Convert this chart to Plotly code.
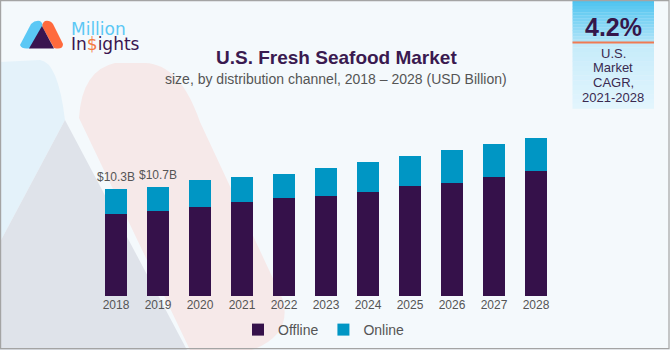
import plotly.graph_objects as go

# ---------------- data ----------------
years = ["2018", "2019", "2020", "2021", "2022", "2023", "2024", "2025", "2026", "2027", "2028"]
offline = [7.94, 8.18, 8.62, 9.04, 9.46, 9.68, 10.04, 10.62, 10.88, 11.46, 12.07]
online = [2.36, 2.37, 2.58, 2.42, 2.32, 2.65, 2.89, 2.86, 3.21, 3.21, 3.21]
bar_labels = ["$10.3B", "$10.7B"]
cagr_value = "4.2%"
cagr_lines = ["U.S.", "Market", "CAGR,", "2021-2028"]

# ---------------- geometry helpers (pixels -> paper) ----------------
W, H = 670, 350
ML, MR, MT, MB = 95, 113, 126, 54
PW, PH = W - ML - MR, H - MT - MB


def px(x):
    return (x - ML) / PW


def py(y):
    return 1 - (y - MT) / PH


def path(pts_cmds):
    out = []
    for c in pts_cmds:
        if isinstance(c, str):
            out.append(c)
        else:
            out.append(f"{px(c[0]):.5f},{py(c[1]):.5f}")
    return " ".join(out)


DARK = "#35114a"
BLUE = "#0096c4"
GRAY_TXT = "#555555"

fig = go.Figure()
fig.add_trace(go.Bar(x=years, y=offline, name="Offline", marker=dict(color=DARK, line=dict(width=0))))
fig.add_trace(go.Bar(x=years, y=online, name="Online", marker=dict(color=BLUE, line=dict(width=0))))

shapes = []
# background decorative shapes
shapes.append(dict(type="path", xref="paper", yref="paper", layer="below", line=dict(width=0),
                   fillcolor="#e4f2fa",
                   path=path(["M", (0, 62), "L", (40, 60), "Q", (58, 62), (65, 120), "L", (0, 242), "Z"])))
shapes.append(dict(type="path", xref="paper", yref="paper", layer="below", line=dict(width=0),
                   fillcolor="#dfe3ea",
                   path=path(["M", (65, 120), "L", (187, 350), "L", (0, 350), "L", (0, 242), "Z"])))
shapes.append(dict(type="path", xref="paper", yref="paper", layer="below", line=dict(width=0),
                   fillcolor="#f6e9e9",
                   path=path(["M", (79, 118), "L", (190, 350), "L", (252, 350),
                              "Q", (292, 335), (283, 300), "L", (200, 122),
                              "Q", (180, 64), (145, 63), "L", (115, 63),
                              "Q", (82, 70), (79, 118), "Z"])))


def lerp_col(c1, c2, t):
    a = [int(c1[i:i + 2], 16) for i in (1, 3, 5)]
    b = [int(c2[i:i + 2], 16) for i in (1, 3, 5)]
    return "#" + "".join(f"{round(a[k] + (b[k] - a[k]) * t):02x}" for k in range(3))


# CAGR box
BX0, BX1 = 572.5, 654
n = 14
for i in range(n):
    y0 = 0 + 42.5 * i / n
    y1 = 0 + 42.5 * (i + 1) / n + 0.3
    shapes.append(dict(type="rect", xref="paper", yref="paper", layer="below", line=dict(width=0),
                       fillcolor=lerp_col("#4fc4f0", "#aee3f8", i / (n - 1)),
                       x0=px(BX0), x1=px(BX1), y0=py(y0), y1=py(y1)))
for i in range(n):
    y0 = 42.5 + 66 * i / n
    y1 = 42.5 + 66 * (i + 1) / n + 0.3
    shapes.append(dict(type="rect", xref="paper", yref="paper", layer="below", line=dict(width=0),
                       fillcolor=lerp_col("#c6ebfa", "#e2f5fd", i / (n - 1)),
                       x0=px(BX0), x1=px(BX1), y0=py(y0), y1=py(y1)))
shapes.append(dict(type="line", xref="paper", yref="paper", layer="below",
                   line=dict(color="#f07a52", width=2),
                   x0=px(BX0), x1=px(BX1), y0=py(42.5), y1=py(42.5)))

# logo icon
shapes.append(dict(type="path", xref="paper", yref="paper", layer="below", line=dict(width=0),
                   fillcolor="#5bc8f5",
                   path=path(["M", (20, 45), "L", (31, 24), "Q", (35, 20), (40, 21),
                              "Q", (44, 24), (42, 28), "L", (31, 48), "Q", (22, 50), (20, 45), "Z"])))
shapes.append(dict(type="path", xref="paper", yref="paper", layer="below", line=dict(width=0),
                   fillcolor="#ff6a3d",
                   path=path(["M", (43, 28), "Q", (41, 24), (45, 21), "Q", (50, 20), (53, 24),
                              "L", (63, 44), "Q", (63, 50), (54, 48), "Z"])))
shapes.append(dict(type="path", xref="paper", yref="paper", layer="below", line=dict(width=0),
                   fillcolor="#3a1550",
                   path=path(["M", (29, 48.5), "L", (42, 26), "L", (54, 48.5), "Z"])))

# frame
shapes.append(dict(type="rect", xref="paper", yref="paper", layer="above",
                   line=dict(color="#a4a4a4", width=1.2), fillcolor="rgba(0,0,0,0)",
                   x0=px(0.6), x1=px(669), y0=py(0.6), y1=py(348.7)))

annotations = []


def ann(text, x, y, size, color, bold=False, family="Liberation Sans, Arial, sans-serif", xanchor="center"):
    annotations.append(dict(text=f"<b>{text}</b>" if bold else text, x=px(x), y=py(y),
                            xref="paper", yref="paper", xanchor=xanchor, yanchor="middle",
                            showarrow=False, font=dict(size=size, color=color, family=family)))


ann("U.S. Fresh Seafood Market", 336.5, 57, 19, "#3a1a50", bold=True)
ann("size, by distribution channel, 2018 – 2028 (USD Billion)", 336, 78.5, 14, GRAY_TXT)

ann("Million", 69, 28.5, 17, "#5bc8f5", family="DejaVu Sans, sans-serif", xanchor="left")
ann("In<span style='color:#f47a40'>$</span>ights", 69, 44.5, 17, "#3a1550",
    family="DejaVu Sans, sans-serif", xanchor="left")

ann(cagr_value, 613.3, 27.5, 25, "#35164a", bold=True)
for txt, yy in zip(cagr_lines, [53.5, 68, 82.5, 97.5]):
    ann(txt, 613.3, yy, 13, "#3a2a50")

# value labels above first bars
for i, lab in enumerate(bar_labels):
    annotations.append(dict(text=lab, x=i, y=offline[i] + online[i], xref="x", yref="y",
                            xanchor="center", yanchor="middle", yshift=12, showarrow=False,
                            font=dict(size=12, color=GRAY_TXT, family="Liberation Sans, Arial, sans-serif")))

fig.update_layout(
    width=W, height=H,
    margin=dict(l=ML, r=MR, t=MT, b=MB, pad=0, autoexpand=False),
    barmode="stack",
    bargap=0.476,
    paper_bgcolor="#f4f9fc",
    plot_bgcolor="rgba(0,0,0,0)",
    font=dict(family="Liberation Sans, Arial, sans-serif", color=GRAY_TXT),
    showlegend=True,
    legend=dict(orientation="h", x=px(238), xanchor="left", y=py(330), yanchor="middle",
                traceorder="normal",
                font=dict(size=14, color=GRAY_TXT), bgcolor="rgba(0,0,0,0)", itemwidth=30),
    xaxis=dict(type="category", showgrid=False, showline=False, zeroline=False, ticks="",
               tickfont=dict(size=12, color=GRAY_TXT), range=[-0.5, 10.5]),
    yaxis=dict(range=[0, PH / 10.36], showgrid=False, showline=False, zeroline=False,
               showticklabels=False, ticks=""),
    shapes=shapes,
    annotations=annotations,
)

fig.write_html("out.html")
